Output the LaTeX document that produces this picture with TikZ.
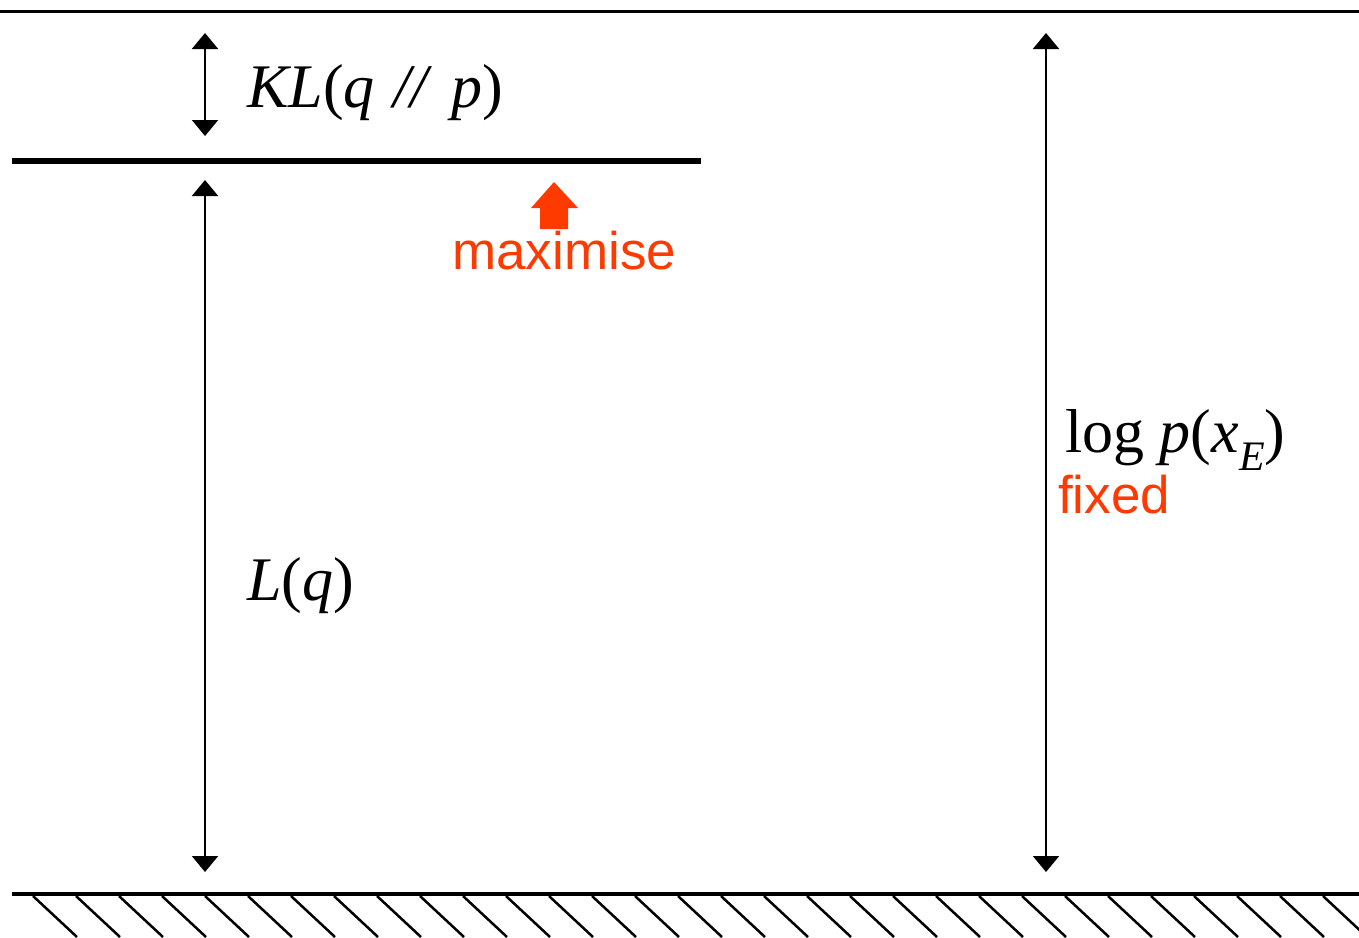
\documentclass[tikz,border=0pt]{standalone}
\usepackage{fontspec}
\setmainfont{Liberation Serif}
\newfontfamily\labsans{Liberation Sans}
\usetikzlibrary{arrows.meta}
\definecolor{hot}{RGB}{255,58,0}
\begin{document}
\begin{tikzpicture}[x=1pt,y=-1pt,
  dim/.style={line width=2pt,{Triangle[width=26pt,length=16pt]}-{Triangle[width=26pt,length=16pt]}},
  mathlab/.style={anchor=base west,inner sep=0pt,font=\fontsize{62}{62}\selectfont},
  redlab/.style={anchor=base west,inner sep=0pt,text=hot,font=\labsans\fontsize{53}{53}\selectfont},
  hatch/.style={line width=2.5pt}]
\useasboundingbox (0,0) rectangle (1359,937);
\clip (0,0) rectangle (1359,937);
% levels
\draw[line width=3pt] (0,11) -- (1359,11);
\draw[line width=6pt] (12,161) -- (701,161);
\draw[line width=4pt] (12,894) -- (1359,894);
\foreach \i in {0,...,31} {
  \draw[hatch] ({33+43*\i},896) -- ({33+43*\i+44},937);
}
% dimension arrows
\coordinate (kltop) at (205,33);
\coordinate (klbot) at (205,136);
\coordinate (ltop) at (205,180);
\coordinate (lbot) at (205,872);
\coordinate (ptop) at (1046,33);
\coordinate (pbot) at (1046,872);
\draw[dim] (kltop) -- (klbot);
\draw[dim] (ltop) -- (lbot);
\draw[dim] (ptop) -- (pbot);
% labels
\node[mathlab] (kl) at (247,107) {\textit{KL}(\textit{q}\hspace{0.3em}\textit{//}\hspace{0.3em}\textit{p})};
\node[mathlab] (lq) at (247,600) {\textit{L}(\textit{q})};
\node[mathlab] (lp) at (1065,452) {log \textit{p}(\textit{x}\raisebox{-0.3em}{\fontsize{42}{42}\selectfont\textit{E}})};
\node[redlab] (fixed) at (1058,513) {fixed};
\node[redlab] (max) at (452,269) {maximise};
% maximise block arrow
\fill[hot] (540,229) -- (540,208) -- (531,208) -- (554,182) -- (578,208) -- (568,208) -- (568,229) -- cycle;
\end{tikzpicture}
\end{document}
